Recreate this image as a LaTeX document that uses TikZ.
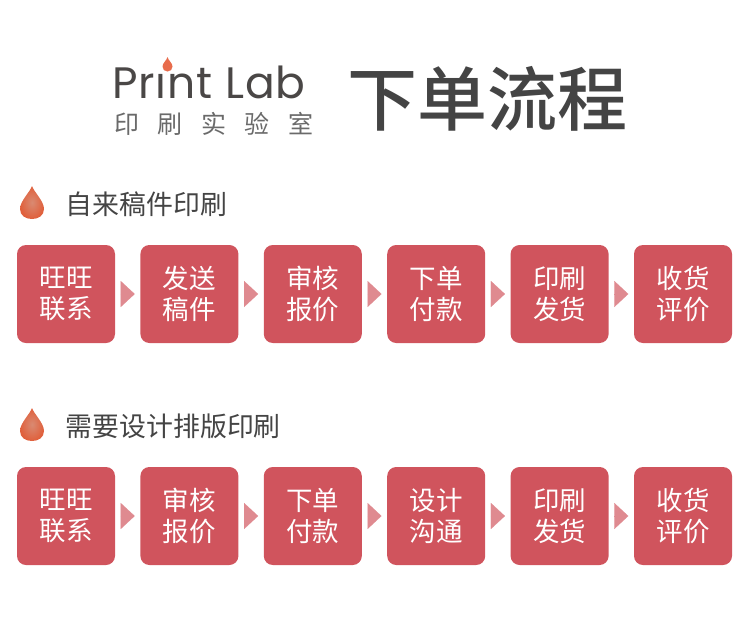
\documentclass[tikz,border=0pt]{standalone}
\usepackage{fontspec}
\setmainfont{Noto Sans CJK SC}
\newfontfamily\logofont[LetterSpace=2]{Poppins}
\newfontfamily\logosubfont[LetterSpace=74]{Noto Sans CJK SC}
\newfontfamily\titlefont{Noto Sans CJK SC Medium}
\usetikzlibrary{arrows.meta, positioning}
\definecolor{cardfill}{HTML}{D0545D}
\definecolor{flowtip}{HTML}{DF8A90}
\definecolor{dropedge}{HTML}{E0603C}
\definecolor{dropcore}{HTML}{D98A72}
\definecolor{logotip}{HTML}{E86C4C}
\definecolor{darktext}{HTML}{444444}
\definecolor{logotext}{HTML}{4A4746}
\definecolor{subtext}{HTML}{6A6A6A}
\tikzset{
  card/.style={rectangle, rounded corners=9pt, fill=cardfill, text=white, align=center,
               minimum size=98pt, inner sep=0pt, outer sep=0pt, font=\fontsize{26.5}{31}\selectfont},
  flow/.style={-{Triangle[length=14pt, width=26pt]}, line width=0.1pt, draw=flowtip,
               fill=flowtip, shorten <=5.7pt, shorten >=5.7pt},
  sechead/.style={anchor=west, text=darktext, inner sep=0pt, font=\fontsize{26.9}{30}\selectfont},
  pics/droplet/.style={code={
    \shade[inner color=dropcore, outer color=dropedge]
      (0,-17) .. controls (2,-11) and (12,-2) .. (12,6)
      .. controls (12,12.5) and (6.5,16) .. (0,16)
      .. controls (-6.5,16) and (-12,12.5) .. (-12,6)
      .. controls (-12,-2) and (-2,-11) .. (0,-17) -- cycle;
  }},
}
\def\cardgap{25.4pt}

\begin{document}
\begin{tikzpicture}[x=1pt, y=-1pt]
\useasboundingbox (0,0) rectangle (750,635);

% Logo and title
\node[anchor=base west, inner sep=0pt, text=logotext, font=\logofont\fontsize{44}{44}\selectfont] (logo) at (112,98) {Pr\char"0131 nt Lab};
\fill[logotip] (167.5,57) .. controls (168,60) and (172.5,63) .. (172.5,66.5)
  .. controls (172.5,69.5) and (170.5,71.5) .. (167.5,71.5)
  .. controls (164.5,71.5) and (162.5,69.5) .. (162.5,66.5)
  .. controls (162.5,63) and (167,60) .. (167.5,57) -- cycle;
\node[anchor=west, inner sep=0pt, text=subtext, font=\logosubfont\fontsize{25}{25}\selectfont] (logosub) at (114,124) {印刷实验室};
\node[anchor=west, inner sep=0pt, text=darktext, font=\titlefont\fontsize{70}{70}\selectfont] (title) at (347,99) {下单流程};

% First flow
\pic at (32,203) {droplet};
\node[sechead] (head1) at (65.5,204) {自来稿件印刷};
\node[card] (a1) at (66,294) {旺旺\\联系};
\node[card, right=\cardgap of a1] (a2) {发送\\稿件};
\node[card, right=\cardgap of a2] (a3) {审核\\报价};
\node[card, right=\cardgap of a3] (a4) {下单\\付款};
\node[card, right=\cardgap of a4] (a5) {印刷\\发货};
\node[card, right=\cardgap of a5] (a6) {收货\\评价};

% Second flow
\pic at (32,425) {droplet};
\node[sechead] (head2) at (65.5,426) {需要设计排版印刷};
\node[card] (b1) at (66,516) {旺旺\\联系};
\node[card, right=\cardgap of b1] (b2) {审核\\报价};
\node[card, right=\cardgap of b2] (b3) {下单\\付款};
\node[card, right=\cardgap of b3] (b4) {设计\\沟通};
\node[card, right=\cardgap of b4] (b5) {印刷\\发货};
\node[card, right=\cardgap of b5] (b6) {收货\\评价};

% Flow
\foreach \s/\t in {1/2, 2/3, 3/4, 4/5, 5/6} {
  \draw[flow] (a\s.east) -- (a\t.west);
  \draw[flow] (b\s.east) -- (b\t.west);
}

\end{tikzpicture}
\end{document}
